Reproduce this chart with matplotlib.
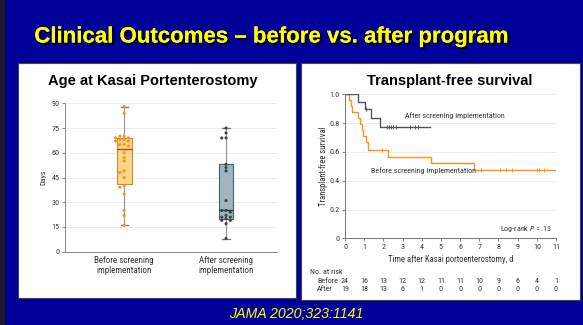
import numpy as np
import matplotlib
matplotlib.use("Agg")
import matplotlib.pyplot as plt
from matplotlib import font_manager
from matplotlib.patches import Rectangle
import matplotlib.patheffects as pe
import matplotlib.transforms as mtransforms

# ---------------- data ----------------
slide_title = "Clinical Outcomes \u2013 before vs. after program"
citation = "JAMA 2020;323:1141"

box_title = "Age at Kasai Portenterostomy"
box_categories = ["Before screening\nimplementation", "After screening\nimplementation"]
before_days = [88, 84, 70, 70, 69, 69, 68, 68, 67, 67, 65, 65, 64, 60, 57, 55,
               49, 48, 45, 40, 39, 35, 25, 22, 16]
after_days = [75, 72, 69, 69, 53, 51, 49, 31, 25, 25, 24, 22, 21, 21, 20, 19, 19, 17, 8]
# box statistics: whisker low, Q1, median, Q3, whisker high
before_box = [16, 41, 62, 69, 88]
after_box = [8, 20, 25, 53, 75]
box_yticks = [0, 15, 30, 45, 60, 75, 90]

km_title = "Transplant-free survival"
before_t = [0, 0.23, 0.31, 0.38, 0.66, 0.78, 0.90, 0.96, 1.08, 1.18, 2.23, 4.49, 6.70, 11.0]
before_s = [1.0, 0.958, 0.917, 0.875, 0.833, 0.792, 0.75, 0.708, 0.667, 0.615, 0.567, 0.52, 0.475, 0.475]
before_cens = [1.93, 7.1, 8.1, 8.4, 8.7, 10.0, 10.1, 10.4]
after_t = [0, 0.70, 1.04, 1.36, 1.83, 4.43]
after_s = [1.0, 0.947, 0.895, 0.833, 0.772, 0.772]
after_cens = [1.12, 2.17, 2.30, 2.40, 2.52, 2.66, 3.39, 3.65, 3.83]
km_xticks = list(range(0, 12))
km_yticks = [0, 0.2, 0.4, 0.6, 0.8, 1.0]
km_yticklabels = ["0", "0.2", "0.4", "0.6", "0.8", "1.0"]
risk_before = [24, 16, 13, 12, 12, 11, 11, 10, 9, 6, 4, 1]
risk_after = [19, 18, 13, 6, 1, 0, 0, 0, 0, 0, 0, 0]

# ---------------- fonts ----------------
ttf = font_manager.fontManager.ttflist
names = {f.name for f in ttf}
cf = dict(family="DejaVu Sans")
for cand in ["Liberation Sans Narrow", "Roboto Condensed", "Open Sans Condensed"]:
    if cand in names:
        cf = dict(family=cand)
        break
else:
    if any(f.name == "DejaVu Sans" and f.stretch == "condensed" for f in ttf):
        cf = dict(family="DejaVu Sans", stretch="condensed")
arial = "Liberation Sans" if "Liberation Sans" in names else "DejaVu Sans"
plt.rcParams["mathtext.fontset"] = "custom"
plt.rcParams["mathtext.rm"] = cf["family"]
plt.rcParams["mathtext.it"] = cf["family"] + ":italic"

# ---------------- figure ----------------
W, H = 583, 325
fig = plt.figure(figsize=(W / 100, H / 100), dpi=100)
fig.patch.set_facecolor("#000099")

def fx(px):
    return px / W

def fy(py):
    return 1 - py / H

fig.add_artist(Rectangle((0, 0), fx(5), 1, transform=fig.transFigure,
                         facecolor="#1a1a2a", edgecolor="none", zorder=-5))
# white panels
fig.add_artist(Rectangle((fx(18), fy(298)), fx(278), 235 / H, transform=fig.transFigure,
                         facecolor="white", edgecolor="#444444", lw=0.8, zorder=-5))
fig.add_artist(Rectangle((fx(301), fy(300)), fx(279), 237 / H, transform=fig.transFigure,
                         facecolor="white", edgecolor="#444444", lw=0.8, zorder=-5))

# slide title with shadow
fig.text(fx(271), fy(37), slide_title, ha="center", va="center", color="#FFFF00",
         fontsize=16, fontweight="bold", family=arial,
         path_effects=[pe.withSimplePatchShadow(offset=(1.6, -1.6), shadow_rgbFace="black", alpha=0.9),
                       pe.Normal()])
fig.text(fx(296), fy(314), citation, ha="center", va="center", color="#FFFF00",
         fontsize=10.2, style="italic", family=arial)

# ---------------- box plot ----------------
ax1 = fig.add_axes([fx(65), fy(251.7), fx(212), 148.4 / H])
ax1.patch.set_alpha(0)
ax1.set_xlim(-0.58, 1.5)
ax1.set_ylim(0, 90)
ax1.set_yticks(box_yticks)
ax1.set_yticklabels([str(v) for v in box_yticks], fontsize=5.8, color="#333333", **cf)
ax1.set_xticks([0, 1])
ax1.set_xticklabels(box_categories, fontsize=6.5, color="#333333", linespacing=1.2, **cf)
ax1.tick_params(axis="x", length=0, pad=3)
ax1.tick_params(axis="y", length=2.5, width=0.6, color="#777777", pad=1.5)
for s in ["top", "right"]:
    ax1.spines[s].set_visible(False)
for s in ["left", "bottom"]:
    ax1.spines[s].set_color("#888888")
    ax1.spines[s].set_linewidth(0.7)
ax1.grid(axis="y", color="#ececec", lw=0.7)
ax1.set_axisbelow(True)
ax1.text(-0.104, 0.5, "Days", transform=ax1.transAxes, rotation=90, ha="center", va="center",
         fontsize=5.8, color="#333333", **cf)

styles = [
    dict(face="#FFD587", edge="#C9893A", med="#8A5A20", pt="#F7941E"),
    dict(face="#9FB6BF", edge="#4f5c63", med="#2e3a40", pt="#39444a"),
]
stats = []
for b, lab in zip([before_box, after_box], box_categories):
    stats.append(dict(whislo=b[0], q1=b[1], med=b[2], q3=b[3], whishi=b[4], fliers=[], label=lab))
for i, (st, sty) in enumerate(zip(stats, styles)):
    ax1.bxp([st], positions=[i], widths=0.145, showfliers=False, patch_artist=True,
            boxprops=dict(facecolor=sty["face"], edgecolor=sty["edge"], lw=0.8),
            medianprops=dict(color=sty["med"], lw=1.0),
            whiskerprops=dict(color="#999999", lw=0.9),
            capprops=dict(color="#777777", lw=0.9), capwidths=0.07, manage_ticks=False)
ax1.set_xticks([0, 1])

def swarm(vals, d=0.042, thr=1.8):
    placed = []
    offs = []
    for v in vals:
        for k in [0, -1, 1, -2, 2, -3, 3]:
            o = k * d
            if all(abs(v - pv) > thr or abs(o - po) > d * 0.9 for pv, po in placed):
                break
        placed.append((v, o))
        offs.append(o)
    return np.array(offs)

for i, (vals, sty) in enumerate(zip([before_days, after_days], styles)):
    vals = np.array(vals, dtype=float)
    offs = swarm(vals)
    ax1.scatter(i + offs, vals, s=5, color=sty["pt"], edgecolors="none", zorder=5)

fig.text(fx(153), fy(81), box_title, ha="center", va="center", fontsize=10.5,
         fontweight="bold", family=arial, color="black")

# ---------------- KM plot ----------------
ax2 = fig.add_axes([fx(345), fy(238.3), fx(211), 144 / H])
ax2.patch.set_alpha(0)
ax2.set_xlim(0, 11)
ax2.set_ylim(0, 1.0)
ax2.set_xticks(km_xticks)
ax2.set_xticklabels([str(v) for v in km_xticks], fontsize=5.8, color="#333333", **cf)
ax2.set_yticks(km_yticks)
ax2.set_yticklabels(km_yticklabels, fontsize=5.8, color="#333333", **cf)
ax2.tick_params(length=2.5, width=0.6, color="#777777", pad=1.5)
for s in ["top", "right"]:
    ax2.spines[s].set_visible(False)
for s in ["left", "bottom"]:
    ax2.spines[s].set_color("#777777")
    ax2.spines[s].set_linewidth(0.7)
ax2.grid(axis="y", color="#ececec", lw=0.7)
ax2.set_axisbelow(True)

orange = "#F7941E"
dark = "#555555"
ax2.step(before_t, before_s, where="post", color=orange, lw=1.0, zorder=3)
ax2.step(after_t, after_s, where="post", color=dark, lw=1.0, zorder=4)

def surv_at(ts, ss, x):
    idx = np.searchsorted(ts, x, side="right") - 1
    return np.array(ss)[idx]

ax2.plot(before_cens, surv_at(before_t, before_s, before_cens), ls="none", marker="|",
         ms=3, mew=0.7, color=orange, zorder=3)
ax2.plot(after_cens, surv_at(after_t, after_s, after_cens), ls="none", marker="|",
         ms=3, mew=0.7, color=dark, zorder=4)

ax2.text(5.73, 0.85, "After screening implementation", ha="center", va="center",
         fontsize=5.8, color="#333333", **cf)
ax2.text(4.07, 0.467, "Before screening implementation", ha="center", va="center",
         fontsize=5.8, color="#333333", **cf)
ax2.text(10.83, 0.065, "Log-rank $\\it{P}$\u2009= .13", ha="right", va="center",
         fontsize=5.8, color="#333333", **cf)
ax2.text(0.5, -0.144, "Time after Kasai portoenterostomy, d", transform=ax2.transAxes,
         ha="center", va="center", fontsize=6.2, color="#333333", **cf)
ax2.text(-0.104, 0.5, "Transplant-free survival", transform=ax2.transAxes, rotation=90,
         ha="center", va="center", fontsize=6.2, color="#333333", **cf)

trans = mtransforms.blended_transform_factory(ax2.transData, ax2.transAxes)
ax2.text(-0.166, -0.232, "No. at risk", transform=ax2.transAxes, ha="left", va="center",
         fontsize=5.8, color="#333333", **cf)
ax2.text(-0.133, -0.294, "Before", transform=ax2.transAxes, ha="left", va="center",
         fontsize=5.8, color="#333333", **cf)
ax2.text(-0.133, -0.352, "After", transform=ax2.transAxes, ha="left", va="center",
         fontsize=5.8, color="#333333", **cf)
for x, rb, ra in zip(km_xticks, risk_before, risk_after):
    ax2.text(x, -0.294, str(rb), transform=trans, ha="center", va="center",
             fontsize=5.8, color="#333333", **cf)
    ax2.text(x, -0.352, str(ra), transform=trans, ha="center", va="center",
             fontsize=5.8, color="#333333", **cf)

fig.text(fx(450), fy(81), km_title, ha="center", va="center", fontsize=10.5,
         fontweight="bold", family=arial, color="black")

fig.savefig("out.png", dpi=100, facecolor=fig.get_facecolor())
